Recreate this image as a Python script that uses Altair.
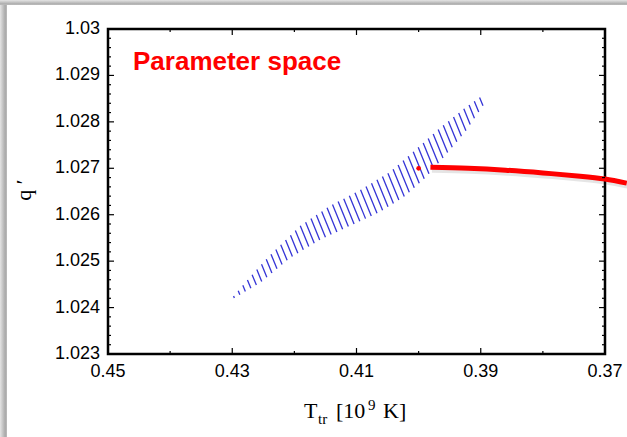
import altair as alt
import numpy as np
import pandas as pd

# ---------------- data ----------------
X_DOMAIN = [0.37, 0.45]          # T_tr [10^9 K] (axis reversed)
Y_DOMAIN = [1.023, 1.030]        # q'
X_LABELS = [0.45, 0.43, 0.41, 0.39, 0.37]
X_MINOR = [0.44, 0.42, 0.40, 0.38]
Y_LABELS = [1.023, 1.024, 1.025, 1.026, 1.027, 1.028, 1.029, 1.030]

# allowed parameter region (hatched band): upper and lower boundary
BAND_UPPER_T = [0.4299, 0.42714, 0.42392, 0.41909, 0.41427, 0.40944, 0.40461, 0.40058, 0.39656, 0.39254, 0.38964]
BAND_UPPER_Q = [1.02423, 1.02466, 1.02513, 1.02576, 1.02619, 1.02653, 1.02692, 1.02739, 1.02787, 1.02830, 1.02858]
BAND_LOWER_T = [0.4299, 0.42553, 0.42070, 0.41588, 0.41105, 0.40622, 0.40219, 0.39897, 0.39576, 0.39254, 0.38932]
BAND_LOWER_Q = [1.02419, 1.02453, 1.02507, 1.02546, 1.02576, 1.02606, 1.02640, 1.02679, 1.02727, 1.02778, 1.02841]

# red curve and red dot
RED_T = [0.3981, 0.392, 0.386, 0.380, 0.374, 0.370, 0.3665]
RED_Q = [1.02702, 1.02700, 1.02696, 1.02690, 1.02683, 1.02677, 1.02668]
DOT_T = [0.400]
DOT_Q = [1.02700]

TITLE_TEXT = "Parameter space"

# ---------------- layout / style ----------------
W, H = 497, 325
PAD_L, PAD_T = 108, 29
BLUE = "#3434d6"
RED = "#ff0000"

Y_MINOR = [round(Y_LABELS[0] + 0.0002 * i, 4) for i in range(36)
           if i % 5 != 0]

xs = alt.Scale(domain=X_DOMAIN, reverse=True, nice=False, zero=False)
ys = alt.Scale(domain=Y_DOMAIN, nice=False, zero=False)

# hatch pattern of the band (style: parallel strokes clipped to the region)
def to_px(T):
    return (X_DOMAIN[1] - np.asarray(T, float)) / (X_DOMAIN[1] - X_DOMAIN[0]) * W

def to_py(q):
    return (Y_DOMAIN[1] - np.asarray(q, float)) / (Y_DOMAIN[1] - Y_DOMAIN[0]) * H

def from_px(x):
    return X_DOMAIN[1] - x / W * (X_DOMAIN[1] - X_DOMAIN[0])

def from_py(y):
    return Y_DOMAIN[1] - y / H * (Y_DOMAIN[1] - Y_DOMAIN[0])

PX = np.concatenate([to_px(BAND_UPPER_T), to_px(BAND_LOWER_T[::-1])])
PY = np.concatenate([to_py(BAND_UPPER_Q), to_py(BAND_LOWER_Q[::-1])])
A, B = 22.0, -9.0              # stroke direction (9, 22) in pixels
HATCH_STEP = 150.0
vals = A * PX + B * PY
segs = []
n = len(PX)
for c in np.arange(vals.min() + 40, vals.max(), HATCH_STEP):
    pts = []
    for i in range(n):
        j = (i + 1) % n
        f1, f2 = vals[i] - c, vals[j] - c
        if (f1 > 0) != (f2 > 0):
            t = f1 / (f1 - f2)
            pts.append((PX[i] + t * (PX[j] - PX[i]), PY[i] + t * (PY[j] - PY[i])))
    pts.sort(key=lambda p: p[1])
    for k in range(0, len(pts) - 1, 2):
        (x1, y1), (x2, y2) = pts[k], pts[k + 1]
        segs.append({"t1": from_px(x1), "q1": from_py(y1), "t2": from_px(x2), "q2": from_py(y2)})
hatch_df = pd.DataFrame(segs)

red_df = pd.DataFrame({"T": RED_T, "q": RED_Q})
dot_df = pd.DataFrame({"T": DOT_T, "q": DOT_Q})
one = pd.DataFrame({"a": [0]})

LABEL_FONT = "Liberation Sans"
SERIF = "Liberation Serif"

# background shadow strips of the slide
shadow_left = alt.Chart(one).mark_rect(
    fill=alt.LinearGradient(gradient="linear", x1=0, x2=1, y1=0, y2=0,
                            stops=[alt.GradientStop(color="#e4e4e4", offset=0),
                                   alt.GradientStop(color="#a9a9a9", offset=0.75),
                                   alt.GradientStop(color="#bdbdbd", offset=1)])
).encode(x=alt.value(-PAD_L), x2=alt.value(7 - PAD_L), y=alt.value(-PAD_T), y2=alt.value(437 - PAD_T))
shadow_top = alt.Chart(one).mark_rect(
    fill=alt.LinearGradient(gradient="linear", x1=0, x2=0, y1=0, y2=1,
                            stops=[alt.GradientStop(color="#e4e4e4", offset=0),
                                   alt.GradientStop(color="#ababab", offset=0.8),
                                   alt.GradientStop(color="#c4c4c4", offset=1)])
).encode(x=alt.value(-PAD_L), x2=alt.value(627 - PAD_L), y=alt.value(-PAD_T), y2=alt.value(5 - PAD_T))

hatch = alt.Chart(hatch_df).mark_rule(color=BLUE, strokeWidth=1.3).encode(
    x=alt.X("t1:Q", scale=xs, axis=None), x2="t2:Q",
    y=alt.Y("q1:Q", scale=ys, axis=None), y2="q2:Q",
)

red_shadow = alt.Chart(red_df).mark_line(color="#000000", opacity=0.10, strokeWidth=6,
                                         xOffset=1.5, yOffset=2.5, interpolate="natural").encode(
    x=alt.X("T:Q", scale=xs, axis=None), y=alt.Y("q:Q", scale=ys, axis=None), order="T:Q")
red_line = alt.Chart(red_df).mark_line(color=RED, strokeWidth=5, strokeCap="butt",
                                       interpolate="natural").encode(
    x=alt.X("T:Q", scale=xs, axis=None), y=alt.Y("q:Q", scale=ys, axis=None), order="T:Q")
red_dot = alt.Chart(dot_df).mark_point(filled=True, color=RED, size=22, opacity=1).encode(
    x=alt.X("T:Q", scale=xs, axis=None), y=alt.Y("q:Q", scale=ys, axis=None))

def yticks(vals, length):
    df = pd.DataFrame({"v": vals})
    left = alt.Chart(df).mark_rule(color="black", strokeWidth=1.2).encode(
        y=alt.Y("v:Q", scale=ys, axis=None), x=alt.value(0), x2=alt.value(length))
    right = alt.Chart(df).mark_rule(color="black", strokeWidth=1.2).encode(
        y=alt.Y("v:Q", scale=ys, axis=None), x=alt.value(W - length), x2=alt.value(W))
    return [left, right]

def xticks(vals, length):
    df = pd.DataFrame({"v": vals})
    bottom = alt.Chart(df).mark_rule(color="black", strokeWidth=1.2).encode(
        x=alt.X("v:Q", scale=xs, axis=None), y=alt.value(H), y2=alt.value(H - length))
    top = alt.Chart(df).mark_rule(color="black", strokeWidth=1.2).encode(
        x=alt.X("v:Q", scale=xs, axis=None), y=alt.value(0), y2=alt.value(length))
    return [bottom, top]

ticks = yticks(Y_LABELS, 6) + yticks(Y_MINOR, 3) + xticks(X_LABELS, 6) + xticks(X_MINOR, 3)

# tick labels, placed through the scales
ylab = alt.Chart(pd.DataFrame({"v": Y_LABELS})).mark_text(
    font=LABEL_FONT, fontSize=18, color="black", align="right", baseline="middle").encode(
    y=alt.Y("v:Q", scale=ys, axis=None), x=alt.value(-8), text=alt.Text("v:Q", format=".4~f"))
xlab = alt.Chart(pd.DataFrame({"v": X_LABELS})).mark_text(
    font=LABEL_FONT, fontSize=18, color="black", align="center", baseline="top").encode(
    x=alt.X("v:Q", scale=xs, axis=None), y=alt.value(H + 9), text=alt.Text("v:Q", format=".2f"))

label = alt.Chart(one).mark_text(text=TITLE_TEXT, color=RED, font=LABEL_FONT, fontWeight="bold",
                                 fontSize=26, align="left", baseline="alphabetic").encode(
    x=alt.value(133 - PAD_L), y=alt.value(70 - PAD_T))

# axis titles built from pieces (sub- and superscripts)
def piece(txt, x, y, size):
    return alt.Chart(one).mark_text(text=txt, font=SERIF, fontSize=size, color="black",
                                    align="left", baseline="alphabetic").encode(
        x=alt.value(x - PAD_L), y=alt.value(y - PAD_T))

xtitle = [piece("T", 304, 418, 22), piece("tr", 318, 424, 15), piece("[10", 336, 418, 22),
          piece("9", 368, 410, 15), piece("K]", 383, 418, 22)]
ytitle = alt.Chart(one).mark_text(text="q \u2032", font=SERIF, fontSize=22, color="black", angle=270,
                                  align="center", baseline="alphabetic").encode(
    x=alt.value(31 - PAD_L), y=alt.value(190 - PAD_T))

chart = alt.layer(
    shadow_left, shadow_top, hatch, red_shadow, red_line, red_dot, *ticks, ylab, xlab, label,
    *xtitle, ytitle
).properties(
    width=W, height=H,
    padding={"left": PAD_L, "top": PAD_T, "right": 627 - PAD_L - W, "bottom": 437 - PAD_T - H},
    autosize=alt.AutoSizeParams(type="none"),
    background="white",
).configure_view(stroke="black", strokeWidth=2.5)

chart.save("out.html", embed_options={"renderer": "svg", "actions": False})
